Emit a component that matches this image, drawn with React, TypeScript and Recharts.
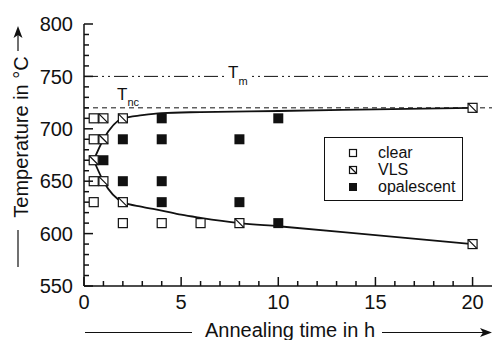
import React from 'react';
import { ComposedChart, Scatter, Line, XAxis, YAxis, ReferenceLine, Legend } from 'recharts';

if (typeof document !== 'undefined') document.body.style.margin = '0';

// sample states (x = annealing time in h, y = temperature in °C)
const clearX = [0.5, 0.5, 0.5, 0.5, 2, 4, 6];
const clearY = [710, 690, 650, 630, 610, 610, 610];
const vlsX = [0.5, 1, 1, 1, 2, 2, 8, 20, 20];
const vlsY = [670, 710, 690, 650, 710, 630, 610, 720, 590];
const opalX = [1, 2, 2, 4, 4, 4, 4, 8, 8, 10, 10];
const opalY = [670, 690, 650, 710, 690, 650, 630, 690, 630, 710, 610];

// boundary curve, upper and lower branch
const upperX = [0.5, 1, 2, 3, 4, 6, 10, 15, 20];
const upperY = [670, 690, 710, 713, 715, 716, 717, 718.5, 720];
const lowerX = [0.5, 1, 2, 3, 4, 5, 6, 8, 10, 15, 20];
const lowerY = [670, 650, 630, 625.5, 622, 618, 615, 610, 607, 598.5, 590];

const tMelt = 750;
const tNc = 720;

const xMajor = [0, 5, 10, 15, 20];
const yMajor = [550, 600, 650, 700, 750, 800];
const xTicks = Array.from({ length: 21 }, (_, i) => i);
const yTicks = Array.from({ length: 26 }, (_, i) => 550 + i * 10);

const legendItems = [
  { name: 'clear', kind: 'clear' },
  { name: 'VLS', kind: 'vls' },
  { name: 'opalescent', kind: 'opal' },
];

const pts = (xs: number[], ys: number[]) => xs.map((x, i) => ({ x, y: ys[i] }));

const FONT = '"Liberation Sans", Arial, Helvetica, sans-serif';
const INK = '#111';

const Marker = ({ cx, cy, kind, s = 9 }: any) => {
  const h = s / 2;
  if (kind === 'opal') {
    return <rect x={cx - h - 0.5} y={cy - h - 0.5} width={s + 1} height={s + 1} fill={INK} />;
  }
  return (
    <g>
      <rect x={cx - h} y={cy - h} width={s} height={s} fill="#fff" stroke={INK} strokeWidth={1.2} />
      {kind === 'vls' && (
        <line x1={cx - h} y1={cy - h} x2={cx + h} y2={cy + h} stroke={INK} strokeWidth={1.2} />
      )}
    </g>
  );
};

const BottomTick = ({ x, y, payload }: any) => {
  const major = xMajor.includes(payload.value);
  return (
    <g>
      <line x1={x} y1={y} x2={x} y2={y - (major ? 9 : 5)} stroke={INK} strokeWidth={1.5} />
      {major && (
        <text x={x} y={y + 22.5} textAnchor="middle" fontSize={20} fill={INK} fontFamily={FONT}>
          {payload.value}
        </text>
      )}
    </g>
  );
};

const TopTick = ({ x, y, payload }: any) => {
  const major = xMajor.includes(payload.value);
  return <line x1={x} y1={y} x2={x} y2={y + (major ? 9 : 5)} stroke={INK} strokeWidth={1.5} />;
};

const LeftTick = ({ x, y, payload }: any) => {
  const major = yMajor.includes(payload.value);
  return (
    <g>
      <line x1={x} y1={y} x2={x + (major ? 9 : 5)} y2={y} stroke={INK} strokeWidth={1.5} />
      {major && (
        <text x={x - 11} y={y} dy="0.36em" textAnchor="end" fontSize={20} fill={INK} fontFamily={FONT}>
          {payload.value}
        </text>
      )}
    </g>
  );
};

const RightTick = ({ x, y, payload }: any) => {
  const major = yMajor.includes(payload.value);
  return <line x1={x} y1={y} x2={x - (major ? 9 : 5)} y2={y} stroke={INK} strokeWidth={1.5} />;
};

const XTitle = ({ viewBox }: any) => {
  const { x, y } = viewBox;
  const ly = y + 46.5;
  return (
    <g fontFamily={FONT} fill={INK}>
      <line x1={x + 1} y1={ly} x2={x + 108} y2={ly} stroke={INK} strokeWidth={1.2} />
      <text x={x + 206} y={y + 51} textAnchor="middle" fontSize={20}>
        Annealing time in h
      </text>
      <line x1={x + 298} y1={ly} x2={x + 404} y2={ly} stroke={INK} strokeWidth={1.2} />
      <polygon points={`${x + 408},${ly} ${x + 396},${ly - 4.5} ${x + 399},${ly} ${x + 396},${ly + 4.5}`} fill={INK} />
    </g>
  );
};

const YTitle = ({ viewBox }: any) => {
  const { y } = viewBox;
  const lx = 18;
  const cy = y + 113;
  return (
    <g fontFamily={FONT} fill={INK}>
      <line x1={lx} y1={y + 206} x2={lx} y2={y + 243} stroke={INK} strokeWidth={1.2} />
      <text x={28} y={cy} textAnchor="middle" fontSize={20} transform={`rotate(-90, 28, ${cy})`}>
        Temperature in °C
      </text>
      <line x1={lx} y1={y + 27} x2={lx} y2={y + 6} stroke={INK} strokeWidth={1.2} />
      <polygon points={`${lx},${y + 2} ${lx - 4.5},${y + 14} ${lx},${y + 11} ${lx + 4.5},${y + 14}`} fill={INK} />
    </g>
  );
};

const LineLabel = ({ viewBox, sub, dx, dy, sdy, bg }: any) => {
  const { x, y } = viewBox;
  return (
    <g fontFamily={FONT} fill={INK}>
      {bg && <rect x={x + dx - 1} y={y - 4} width={23} height={8} fill="#fff" />}
      <text x={x + dx} y={y + dy} fontSize={17}>
        T
        <tspan fontSize={11} dy={sdy}>
          {sub}
        </tspan>
      </text>
    </g>
  );
};

const LegendBox = () => (
  <div
    style={{
      width: 139,
      height: 64,
      boxSizing: 'border-box',
      border: `1.5px solid ${INK}`,
      background: '#fff',
      paddingTop: 6,
      fontFamily: FONT,
      fontSize: 16,
      color: INK,
    }}
  >
    {legendItems.map((it) => (
      <div key={it.name} style={{ display: 'flex', alignItems: 'center', height: 17 }}>
        <svg width={8} height={8} style={{ marginLeft: 24, marginRight: 21, overflow: 'visible' }}>
          <Marker cx={4} cy={4} kind={it.kind} s={7} />
        </svg>
        <span style={{ lineHeight: '17px' }}>{it.name}</span>
      </div>
    ))}
  </div>
);

export default function App() {
  return (
    <div style={{ width: 493, height: 340, background: '#fff', position: 'relative' }}>
      <ComposedChart width={493} height={340} margin={{ top: 24, right: 1, bottom: 0, left: 0 }}>
        <XAxis
          xAxisId="b"
          dataKey="x"
          type="number"
          domain={[0, 21]}
          ticks={xTicks}
          interval={0}
          height={54}
          tickSize={0}
          tickMargin={0}
          tick={<BottomTick />}
          axisLine={{ stroke: INK, strokeWidth: 1.5 }}
          allowDataOverflow
          label={<XTitle />}
        />
        <XAxis
          xAxisId="t"
          dataKey="x"
          type="number"
          orientation="top"
          domain={[0, 21]}
          ticks={xTicks}
          interval={0}
          height={0}
          tickSize={0}
          tickMargin={0}
          tick={<TopTick />}
          axisLine={{ stroke: INK, strokeWidth: 1.5 }}
          allowDataOverflow
        />
        <YAxis
          yAxisId="l"
          type="number"
          domain={[550, 800]}
          ticks={yTicks}
          interval={0}
          width={84}
          tickSize={0}
          tickMargin={0}
          tick={<LeftTick />}
          axisLine={{ stroke: INK, strokeWidth: 1.5 }}
          allowDataOverflow
          label={<YTitle />}
        />
        <YAxis
          yAxisId="r"
          type="number"
          orientation="right"
          domain={[550, 800]}
          ticks={yTicks}
          interval={0}
          width={0}
          tickSize={0}
          tickMargin={0}
          tick={<RightTick />}
          axisLine={{ stroke: INK, strokeWidth: 1.5 }}
          allowDataOverflow
        />
        <ReferenceLine
          xAxisId="b"
          yAxisId="l"
          y={tMelt}
          stroke={INK}
          strokeWidth={1}
          strokeDasharray="14 4 2 4 2 4"
          label={<LineLabel sub="m" dx={144} dy={2} sdy={7} bg />}
        />
        <ReferenceLine
          xAxisId="b"
          yAxisId="l"
          y={tNc}
          stroke={INK}
          strokeWidth={1}
          strokeDasharray="5 4"
          label={<LineLabel sub="nc" dx={33} dy={-8} sdy={6} />}
        />
        <Line
          xAxisId="b"
          yAxisId="l"
          data={pts(upperX, upperY)}
          dataKey="y"
          type="monotone"
          stroke={INK}
          strokeWidth={1.8}
          dot={false}
          isAnimationActive={false}
        />
        <Line
          xAxisId="b"
          yAxisId="l"
          data={pts(lowerX, lowerY)}
          dataKey="y"
          type="monotone"
          stroke={INK}
          strokeWidth={1.8}
          dot={false}
          isAnimationActive={false}
        />
        <Scatter
          xAxisId="b"
          yAxisId="l"
          name="clear"
          data={pts(clearX, clearY)}
          dataKey="y"
          shape={(p: any) => <Marker cx={p.cx} cy={p.cy} kind="clear" />}
          isAnimationActive={false}
        />
        <Scatter
          xAxisId="b"
          yAxisId="l"
          name="VLS"
          data={pts(vlsX, vlsY)}
          dataKey="y"
          shape={(p: any) => <Marker cx={p.cx} cy={p.cy} kind="vls" />}
          isAnimationActive={false}
        />
        <Scatter
          xAxisId="b"
          yAxisId="l"
          name="opalescent"
          data={pts(opalX, opalY)}
          dataKey="y"
          shape={(p: any) => <Marker cx={p.cx} cy={p.cy} kind="opal" />}
          isAnimationActive={false}
        />
        <Legend
          layout="vertical"
          align="center"
          verticalAlign="middle"
          wrapperStyle={{ left: 324, top: 137, width: 139, height: 64 }}
          content={() => <LegendBox />}
        />
      </ComposedChart>
    </div>
  );
}
